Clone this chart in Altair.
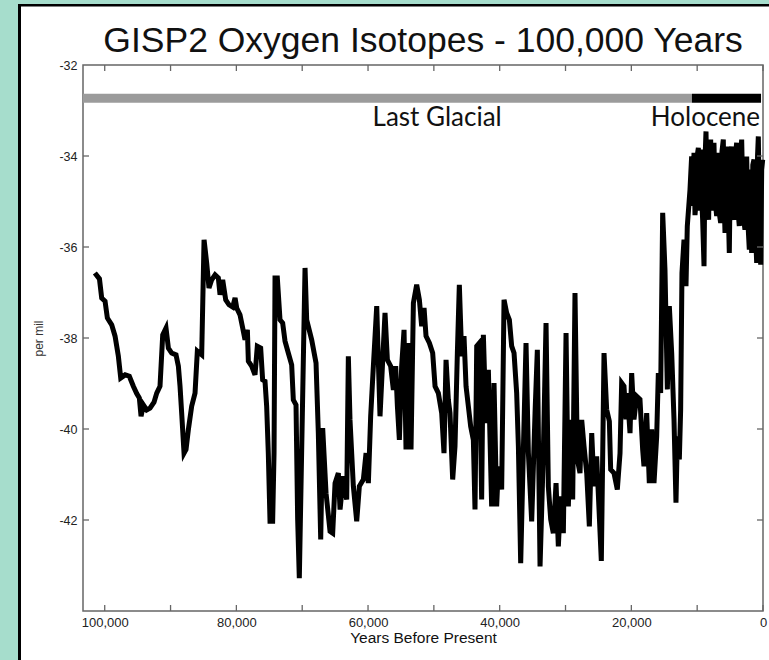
import altair as alt
import pandas as pd

# ---------------- data ----------------
years = [
    101500, 100800, 100460, 99950, 99600, 98940, 98430, 97930, 97570, 96900,
    96260, 95650, 95140, 94740, 94480, 94130, 93620, 93120, 92510, 92100,
    91600, 91190, 90690, 90330, 89830, 89170, 88810, 88560, 88310, 87950,
    87650, 87300, 86790, 86280, 85930, 85270, 84910, 84510, 84160, 83750,
    83240, 82740, 82480, 82080, 81620, 81120, 80560, 80200, 79950, 79450,
    79040, 78690, 78330, 78180, 77680, 77170, 76820, 76310, 76010, 75650,
    75400, 75150, 74890, 74490, 74280, 74130, 73780, 73370, 72970, 72610,
    72110, 71600, 71350, 70940, 70690, 70440,
    69570, 69320, 68560, 67900, 67550, 67190, 66890, 66380, 65770, 65370,
    65010, 64510, 64250, 63750, 63240, 62990, 62740, 62230, 61720, 61320,
    60710, 60300, 59950, 59600, 59190, 58680, 58180, 57770, 57420, 57060,
    56560, 56150, 55800, 55540, 55240, 54890, 54530, 54230, 53870, 53470,
    53110, 52610, 52200, 51850, 51490, 51190, 50680, 50180, 49820, 49320,
    48810, 48460, 48150, 47800, 47550, 47140, 46790, 46430, 46130, 45770,
    45420, 45110, 44760, 44410, 44000, 43750, 43490, 43090, 42740, 42480,
    42080, 41720, 41220, 40860, 40460, 40200, 39700,
    39340, 38940, 38530, 38180, 37820, 37420, 37160, 36810, 36400, 36000,
    35640, 35140, 34630, 34280, 33870, 33370, 32960, 32610, 32250, 31850,
    31440, 31090, 30730, 30330, 29920, 29570, 29210, 28910, 28560, 28200,
    27800, 27540, 27190, 26780, 26380, 26020,
    25670, 25270, 24560, 24150, 23750, 23340, 23140, 22630, 22130, 21720,
    21470, 21120, 20810, 20610, 20200, 19950, 19600, 19190, 18690, 18280,
    18080, 17670, 17270, 16910, 16560, 16150, 15900, 15550, 15240, 14890,
    14530, 14230, 13870, 13520, 13220, 13010, 12710, 12510, 12310, 12000,
    11700, 11500, 11090,
    10840, 10700, 10480, 10330, 10180, 10000, 9820, 9650, 9470, 9320,
    9170, 8960, 8810, 8660, 8460, 8260, 8100, 7950, 7800, 7650,
    7450, 7250, 7040, 6900, 6790, 6600, 6430, 6230, 6030, 5900,
    5770, 5600, 5420, 5270, 5120, 4940, 4760, 4580, 4410, 4200,
    4000, 3800, 3600, 3420, 3240, 3000, 2740, 2600, 2480, 2280,
    2080, 1900, 1720, 1550, 1370, 1150, 960, 830, 710, 530,
    350, 200, 50,
]

d18o = [
    -36.57, -36.70, -37.12, -37.19, -37.56, -37.71, -37.96, -38.40, -38.88, -38.81,
    -38.84, -39.06, -39.22, -39.32, -39.72, -39.47, -39.58, -39.54, -39.41, -39.21,
    -39.06, -37.93, -37.78, -38.22, -38.33, -38.37, -38.62, -39.06, -39.65, -40.53,
    -40.45, -40.02, -39.50, -39.21, -38.29, -38.37, -35.84, -36.35, -36.90, -36.72,
    -36.61, -36.68, -37.05, -36.72, -37.16, -37.27, -37.32, -37.12, -37.34, -37.49,
    -37.78, -38.04, -37.82, -38.51, -38.62, -38.81, -38.18, -38.22, -38.92, -38.95,
    -39.50, -40.53, -42.03, -42.03, -40.53, -36.68, -36.68, -37.60, -37.67, -38.07,
    -38.33, -38.59, -39.36, -39.47, -41.99, -43.28,
    -36.46, -37.60, -38.04, -38.55, -40.09, -42.43, -39.98, -41.41, -42.25, -42.29,
    -41.19, -40.97, -41.77, -41.04, -41.55, -38.40, -39.80, -41.26, -42.03, -41.26,
    -41.11, -40.53, -41.19, -39.72, -38.62, -37.30, -39.72, -38.48, -37.45, -38.48,
    -38.62, -39.14, -38.62, -39.50, -40.24, -38.62, -37.82, -40.45, -38.11, -40.45,
    -37.23, -36.83, -37.16, -37.74, -37.34, -37.96, -38.11, -38.33, -39.06, -39.21,
    -39.65, -40.53, -38.48, -39.36, -39.65, -41.11, -40.38, -38.33, -36.83, -38.40,
    -37.96, -39.06, -39.50, -39.94, -40.24, -41.77, -38.18, -38.11, -41.55, -37.93,
    -39.87, -38.70, -41.70, -38.99, -41.70, -40.82, -41.33,
    -37.16, -37.45, -37.60, -38.18, -38.33, -39.21, -40.38, -42.95, -40.45, -38.11,
    -40.53, -42.03, -39.65, -38.26, -43.02, -40.53, -37.67, -41.26, -41.99, -42.29,
    -41.19, -42.58, -41.48, -42.29, -37.89, -41.70, -39.80, -41.55, -37.01, -40.67,
    -40.97, -39.80, -40.38, -40.97, -42.14, -40.09,
    -41.26, -40.60, -42.90, -38.33, -39.57, -39.83, -40.89, -40.97, -41.33, -40.53,
    -38.99, -39.06, -39.79, -39.21, -40.09, -38.77, -39.79, -39.28, -39.35, -40.45,
    -40.82, -39.65, -41.19, -40.01, -41.19, -40.16, -38.77, -39.21, -35.25, -36.50,
    -39.13, -37.30, -38.33, -39.79, -41.62, -40.16, -40.67, -39.57, -36.57, -35.84,
    -36.86, -35.54, -34.74,
    -34.01, -35.10, -33.93, -35.30, -35.03, -34.00, -33.82, -35.20, -33.86, -34.90,
    -35.40, -36.42, -34.10, -33.46, -35.10, -35.40, -34.00, -33.64, -35.20, -34.00,
    -33.71, -35.00, -35.32, -34.20, -33.93, -35.30, -35.47, -33.90, -33.64, -35.00,
    -35.69, -34.00, -33.79, -35.20, -36.13, -34.10, -33.79, -35.30, -35.40, -34.00,
    -33.71, -35.20, -35.54, -34.00, -33.64, -35.30, -35.62, -34.20, -34.01, -35.50,
    -36.06, -34.30, -36.13, -34.20, -34.08, -35.60, -36.35, -34.00, -33.57, -35.50,
    -36.39, -34.30, -34.08,
]

chart_title = "GISP2 Oxygen Isotopes - 100,000 Years"
period_names = ["Last Glacial", "Holocene"]
period_start = [103300, 10800]
period_end = [10800, 300]
period_colors = ["#9b9b9b", "#000000"]
period_label_year = [49500, 450]
bar_top = -32.63
bar_bottom = -32.83
label_level = -33.33

x_tick_values = [0, 10000, 20000, 30000, 40000, 50000, 60000, 70000, 80000, 90000, 100000]
x_label_values = [0, 20000, 40000, 60000, 80000, 100000]
y_tick_values = [-42, -40, -38, -36, -34]
y_label_values = [-42, -40, -38, -36, -34, -32]

x_domain = [0, 103300]
y_domain = [-44, -32]

# ---------------- layout ----------------
W, H = 680, 546
PAD_L, PAD_T, PAD_R, PAD_B = 83, 65, 6, 49
MINT = "#a6ddcc"
FRAME = "#666666"

line_df = pd.DataFrame({"year": years, "d18o": d18o})
period_df = pd.DataFrame({
    "name": period_names, "start": period_start, "end": period_end,
    "color": period_colors, "label_year": period_label_year,
    "top": [bar_top] * 2, "bottom": [bar_bottom] * 2, "level": [label_level] * 2,
})
xt_df = pd.DataFrame({"t": x_tick_values})
yt_df = pd.DataFrame({"v": y_tick_values})
one = pd.DataFrame({"k": [0]})
title_df = pd.DataFrame({"title": [chart_title]})

xs = alt.Scale(domain=x_domain, reverse=True, nice=False, zero=False)
ys = alt.Scale(domain=y_domain, nice=False, zero=False)

x_axis = alt.Axis(
    values=x_label_values, labelExpr="format(datum.value, ',d')", ticks=False, domain=False,
    grid=False, labelFont="Liberation Sans", labelFontSize=13, labelColor="#222222",
    labelPadding=5, labelFlush=False, labelOverlap=False,
    title="Years Before Present", titleFont="Liberation Sans", titleFontSize=15.5,
    titleFontWeight="normal", titleColor="#111111", titlePadding=1)
y_axis = alt.Axis(
    values=y_label_values, labelExpr="datum.value + ''", ticks=False, domain=False,
    grid=False, labelFont="Liberation Sans", labelFontSize=12.5, labelColor="#222222",
    labelPadding=6, labelOverlap=False,
    title="per mil", titleFont="Liberation Sans", titleFontSize=12,
    titleFontWeight="normal", titleColor="#333333", titlePadding=13)


def X(field):
    return alt.X(field, type="quantitative", scale=xs, axis=x_axis)


def Y(field):
    return alt.Y(field, type="quantitative", scale=ys, axis=y_axis)


line = alt.Chart(line_df).mark_line(color="black", strokeWidth=5, strokeJoin="miter").encode(
    x=X("year"), y=Y("d18o"))

bars = alt.Chart(period_df).mark_rect().encode(
    x=X("start"), x2="end", y=Y("top"), y2="bottom",
    color=alt.Color("color:N", scale=None),
)

label_glacial = alt.Chart(period_df).transform_filter(alt.datum.name == "Last Glacial").mark_text(
    font="Lato", fontSize=26, color="#111111", align="center", baseline="alphabetic"
).encode(x=X("label_year"), y=Y("level"), text="name:N")

label_holo = alt.Chart(period_df).transform_filter(alt.datum.name == "Holocene").mark_text(
    font="Lato", fontSize=26, color="#111111", align="right", baseline="alphabetic"
).encode(x=X("label_year"), y=Y("level"), text="name:N")

TL = 6
xt_bottom = alt.Chart(xt_df).mark_rule(color=FRAME, strokeWidth=1.3).encode(
    x=X("t"), y=alt.value(H), y2=alt.value(H - TL))
xt_top = alt.Chart(xt_df).mark_rule(color=FRAME, strokeWidth=1.3).encode(
    x=X("t"), y=alt.value(0), y2=alt.value(TL))
yt_left = alt.Chart(yt_df).mark_rule(color=FRAME, strokeWidth=1.3).encode(
    y=Y("v"), x=alt.value(0), x2=alt.value(TL))
yt_right = alt.Chart(yt_df).mark_rule(color=FRAME, strokeWidth=1.3).encode(
    y=Y("v"), x=alt.value(W), x2=alt.value(W - TL))

# chart title as a text mark centred over the plot
title_text = alt.Chart(title_df).mark_text(
    font="Liberation Sans", fontSize=35.5, color="#111111", align="center", baseline="alphabetic"
).encode(x=alt.value(W / 2), y=alt.value(-13), text="title:N")

# mint page margin and black panel edge (outside the plot area)
mint_left = alt.Chart(one).mark_rect(color=MINT).encode(
    x=alt.value(-PAD_L), x2=alt.value(-PAD_L + 18), y=alt.value(-PAD_T), y2=alt.value(H + PAD_B))
mint_top = alt.Chart(one).mark_rect(color=MINT).encode(
    x=alt.value(-PAD_L), x2=alt.value(W + PAD_R), y=alt.value(-PAD_T), y2=alt.value(-PAD_T + 4))
edge_left = alt.Chart(one).mark_rect(color="black").encode(
    x=alt.value(-PAD_L + 18), x2=alt.value(-PAD_L + 21), y=alt.value(-PAD_T + 4), y2=alt.value(H + PAD_B))
edge_top = alt.Chart(one).mark_rect(color="black").encode(
    x=alt.value(-PAD_L + 18), x2=alt.value(W + PAD_R), y=alt.value(-PAD_T + 4), y2=alt.value(-PAD_T + 6.5))

chart = alt.layer(
    line, bars, label_glacial, label_holo,
    xt_bottom, xt_top, yt_left, yt_right,
    mint_left, mint_top, edge_left, edge_top, title_text,
).properties(
    width=W, height=H,
    padding={"left": PAD_L, "top": PAD_T, "right": PAD_R, "bottom": PAD_B},
    autosize=alt.AutoSizeParams(type="none"),
    background="white",
).configure_view(stroke=FRAME, strokeWidth=1.5)

chart.save("out.html", embed_options={"renderer": "svg", "actions": False})
